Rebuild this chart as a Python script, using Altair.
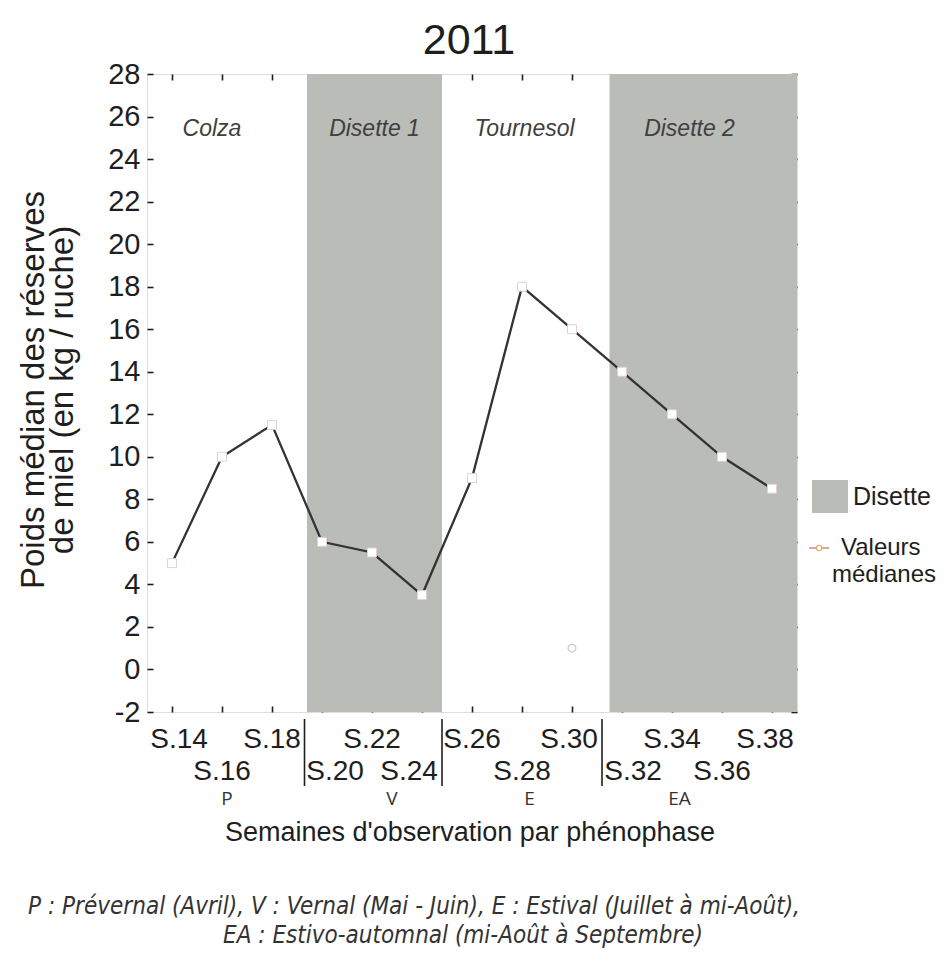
import altair as alt
import pandas as pd

# ---- data ----
weeks = [14, 16, 18, 20, 22, 24, 26, 28, 30, 32, 34, 36, 38]
medians = [5.0, 10.0, 11.5, 6.0, 5.5, 3.5, 9.0, 18.0, 16.0, 14.0, 12.0, 10.0, 8.5]
outlier_weeks = [30]
outlier_values = [1.0]

disette_start = [19.4, 31.5]
disette_end = [24.8, 39.0]

period_labels = ["Colza", "Disette 1", "Tournesol", "Disette 2"]
period_pos = [15.6, 22.1, 28.1, 34.7]

phase_codes = ["P", "V", "E", "EA"]
phase_pos = [16.2, 22.8, 28.3, 34.3]
phase_bounds = [19.3, 24.8, 31.2]

y_ticks = list(range(-2, 29, 2))

W, H = 650, 638
FONT = "Liberation Sans, Arial, sans-serif"
INK = "#1e1e1e"
GREY = "#babcb7"

df = pd.DataFrame({"week": weeks, "value": medians,
                   "label": ["S.%d" % w for w in weeks]})
df_out = pd.DataFrame({"week": outlier_weeks, "value": outlier_values})
df_band = pd.DataFrame({"start": disette_start, "end": disette_end})
df_period = pd.DataFrame({"pos": period_pos, "name": period_labels})
df_phase = pd.DataFrame({"pos": phase_pos, "code": phase_codes})
df_bound = pd.DataFrame({"b": phase_bounds})

xs = alt.Scale(domain=[13, 39], nice=False, zero=False)
ys = alt.Scale(domain=[-2, 28], nice=False, zero=False)

tick_style = dict(domain=False, ticks=True, tickSize=6, offset=-6, tickColor=INK,
                  tickWidth=1.6, grid=False, title=None)

bands = alt.Chart(df_band).mark_rect(color=GREY).encode(
    x=alt.X("start:Q", scale=xs, axis=None),
    x2="end:Q",
    y=alt.value(0), y2=alt.value(H),
)

line = alt.Chart(df).mark_line(color="#333333", strokeWidth=2.3).encode(
    x=alt.X("week:Q", scale=xs,
            axis=alt.Axis(orient="bottom", values=weeks, labels=False, **tick_style)),
    y=alt.Y("value:Q", scale=ys,
            axis=alt.Axis(orient="left", values=y_ticks, labels=True, labelPadding=7,
                          labelFont=FONT, labelFontSize=29, labelColor=INK,
                          labelExpr="'' + datum.value",
                          **tick_style)),
)

points = alt.Chart(df).mark_point(shape="square", size=80, filled=True, fill="white",
                                  stroke="#e2d2d0", strokeWidth=1, opacity=1).encode(
    x=alt.X("week:Q", scale=xs,
            axis=alt.Axis(orient="top", values=weeks, labels=False, **tick_style)),
    y=alt.Y("value:Q", scale=ys,
            axis=alt.Axis(orient="right", values=y_ticks, labels=False, **tick_style)),
)

outlier = alt.Chart(df_out).mark_point(shape="circle", size=60, fill="white",
                                       filled=True, stroke="#c9c9c9",
                                       strokeWidth=1.2, opacity=1).encode(
    x=alt.X("week:Q", scale=xs, axis=None),
    y=alt.Y("value:Q", scale=ys, axis=None),
)

period_text = alt.Chart(df_period).mark_text(
    font=FONT, fontSize=23, fontStyle="italic", color="#404040", baseline="middle"
).encode(x=alt.X("pos:Q", scale=xs, axis=None), y=alt.value(55), text="name:N")

# x tick labels in two staggered rows
label_shift = {"S.14": 7, "S.20": 13, "S.24": -13, "S.32": 11, "S.38": -7, "S.30": -3}
xlabel_layers = []
for i, (w, lab) in enumerate(zip(weeks, df["label"])):
    row_y = 666 if i % 2 == 0 else 698
    xlabel_layers.append(
        alt.Chart(df[df["label"] == lab]).mark_text(
            font=FONT, fontSize=28, color=INK, baseline="middle",
            dx=label_shift.get(lab, 0)
        ).encode(x=alt.X("week:Q", scale=xs, axis=None), y=alt.value(row_y),
                 text="label:N")
    )

bounds = alt.Chart(df_bound).mark_rule(color=INK, strokeWidth=1.6).encode(
    x=alt.X("b:Q", scale=xs, axis=None), y=alt.value(645), y2=alt.value(712)
)

phase_text = alt.Chart(df_phase).mark_text(
    font="Open Sans, sans-serif", fontSize=19, color="#333333", baseline="middle"
).encode(x=alt.X("pos:Q", scale=xs, axis=None), y=alt.value(725), text="code:N")


def label(txt, x, y, size, **kw):
    return alt.Chart(pd.DataFrame({"t": [txt]})).mark_text(
        font=kw.pop("font", FONT), fontSize=size, color=kw.pop("color", INK),
        baseline="middle", **kw
    ).encode(x=alt.value(x), y=alt.value(y), text="t:N")


title = label("2011", W / 2 - 3, -33, 43)
ytitle1 = label("Poids médian des réserves", -113, 316, 33, angle=270)
ytitle2 = label("de miel (en kg / ruche)", -84, 316, 33, angle=270)
xtitle = label("Semaines d'observation par phénophase", 323, 759, 27)
cap_font = "Liberation Sans Narrow, DejaVu Sans Condensed, sans-serif"
cap1 = label("P : Prévernal (Avril), V : Vernal (Mai - Juin), E : Estival (Juillet à mi-Août),",
             267, 833, 24, font=cap_font, fontStyle="italic", color="#333333")
cap2 = label("EA : Estivo-automnal (mi-Août à Septembre)", 316, 862, 24,
             font=cap_font, fontStyle="italic", color="#333333")

leg_box = alt.Chart(pd.DataFrame({"a": [0]})).mark_rect(color=GREY).encode(
    x=alt.value(665), x2=alt.value(701), y=alt.value(406), y2=alt.value(439)
)
leg_dis = label("Disette", 706, 423, 25, align="left")
leg_line = alt.Chart(pd.DataFrame({"a": [0]})).mark_rule(
    color="#c46a5a", strokeWidth=1.2).encode(
    x=alt.value(662), x2=alt.value(682), y=alt.value(474)
)
leg_pt = alt.Chart(pd.DataFrame({"a": [0]})).mark_point(
    shape="circle", size=30, filled=True, fill="white", stroke="#e0a060",
    strokeWidth=1.2, opacity=1).encode(x=alt.value(672), y=alt.value(474))
leg_val1 = label("Valeurs", 694, 474, 24, align="left")
leg_val2 = label("médianes", 737, 501, 24)

chart = alt.layer(
    bands, line, points, outlier, period_text, bounds, phase_text, *xlabel_layers,
    title, ytitle1, ytitle2, xtitle, cap1, cap2,
    leg_box, leg_dis, leg_line, leg_pt, leg_val1, leg_val2,
).resolve_axis(x="independent", y="independent").properties(
    width=W, height=H,
    autosize=alt.AutoSizeParams(type="none"),
    padding={"left": 139, "top": 66, "right": 142, "bottom": 248},
).configure_view(stroke=INK, strokeWidth=2).configure(background="white")

chart.save("out.html", embed_options={"renderer": "svg", "actions": False})
